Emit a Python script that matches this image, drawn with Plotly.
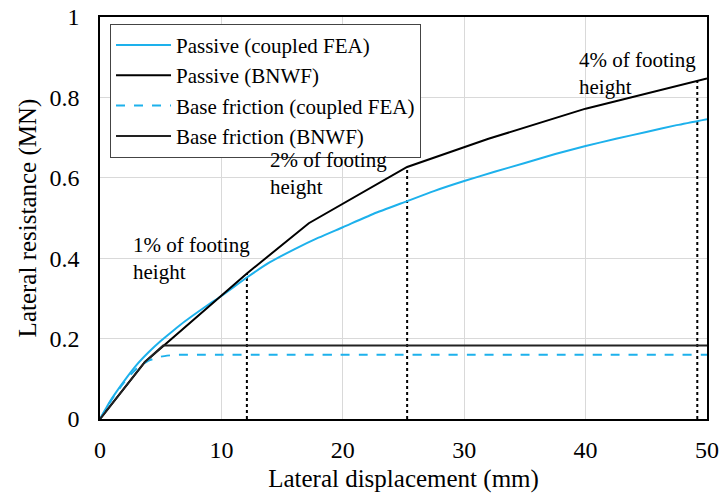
import plotly.graph_objects as go

# Lateral displacement (mm) and lateral resistance (MN)
fea_passive_x = [0, 0.5, 1, 2, 3, 4, 5, 6, 7, 8, 9, 10, 12.1, 14, 16, 18, 20, 22.5,
                 25.3, 27.5, 30, 32.5, 35, 37.5, 40, 42.5, 45, 47.5, 50]
fea_passive_y = [0, 0.027, 0.052, 0.095, 0.134, 0.166, 0.194, 0.219, 0.243, 0.265,
                 0.286, 0.306, 0.352, 0.39, 0.422, 0.451, 0.477, 0.51, 0.542, 0.567,
                 0.592, 0.615, 0.637, 0.659, 0.679, 0.697, 0.714, 0.731, 0.746]

bnwf_passive_x = [0, 3.7, 12.1, 17.2, 25.3, 32, 40, 50]
bnwf_passive_y = [0, 0.142, 0.362, 0.487, 0.627, 0.697, 0.772, 0.847]

fea_base_x = [0, 1, 2, 3, 4, 5, 6, 7, 8, 10, 50]
fea_base_y = [0, 0.05, 0.092, 0.125, 0.145, 0.155, 0.159, 0.16, 0.16, 0.16, 0.16]

bnwf_base_x = [0, 3.7, 5.2, 50]
bnwf_base_y = [0, 0.142, 0.183, 0.183]

# Displacements at 1%, 2% and 4% of footing height
marker_x = [12.1, 25.3, 49.2]
marker_labels = ["1% of footing<br>height", "2% of footing<br>height", "4% of footing<br>height"]
label_pos_x = [2.55, 13.85, 39.25]
label_pos_y = [0.468, 0.678, 0.927]

x_ticks = [0, 10, 20, 30, 40, 50]
y_ticks = [0, 0.2, 0.4, 0.6, 0.8, 1.0]
y_tick_text = ["0", "0.2", "0.4", "0.6", "0.8", "1"]

CYAN = "#1DB1EC"
FONT = "Liberation Serif"

fig = go.Figure()

def interp(x, xs, ys):
    for i in range(len(xs) - 1):
        if xs[i] <= x <= xs[i + 1]:
            t = (x - xs[i]) / (xs[i + 1] - xs[i])
            return ys[i] + t * (ys[i + 1] - ys[i])
    return ys[-1]

# dotted guide lines from the axis up to the BNWF passive curve
for mx in marker_x:
    fig.add_trace(go.Scatter(
        x=[mx, mx], y=[0, interp(mx, bnwf_passive_x, bnwf_passive_y)],
        mode="lines", line=dict(color="black", width=2, dash="dot"),
        showlegend=False, hoverinfo="skip"))

fig.add_trace(go.Scatter(x=fea_passive_x, y=fea_passive_y, mode="lines",
                         name="Passive (coupled FEA)",
                         line=dict(color=CYAN, width=2, shape="spline", smoothing=0.6)))
fig.add_trace(go.Scatter(x=bnwf_passive_x, y=bnwf_passive_y, mode="lines",
                         name="Passive (BNWF)", line=dict(color="black", width=2)))
fig.add_trace(go.Scatter(x=fea_base_x, y=fea_base_y, mode="lines",
                         name="Base friction (coupled FEA)",
                         line=dict(color=CYAN, width=2, dash="dash", shape="spline", smoothing=0.6)))
fig.add_trace(go.Scatter(x=bnwf_base_x, y=bnwf_base_y, mode="lines",
                         name="Base friction (BNWF)", line=dict(color="#222222", width=2)))

for lx, ly, txt in zip(label_pos_x, label_pos_y, marker_labels):
    fig.add_annotation(x=lx, y=ly, text=txt, showarrow=False, xanchor="left",
                       yanchor="top", align="left",
                       font=dict(family=FONT, size=21, color="black"))

fig.update_layout(
    width=721, height=499,
    margin=dict(l=100, r=14, t=17, b=80, autoexpand=False),
    paper_bgcolor="white", plot_bgcolor="white",
    font=dict(family=FONT, size=24, color="black"),
    showlegend=True,
    legend=dict(x=0.0165, y=0.983, xanchor="left", yanchor="top",
                bgcolor="white", bordercolor="#444444", borderwidth=1,
                font=dict(family=FONT, size=21, color="black"),
                itemwidth=55, tracegroupgap=0),
)

fig.update_xaxes(
    range=[0, 50], tickvals=x_ticks, automargin=False,
    showgrid=True, gridcolor="#d9d9d9", gridwidth=1,
    showline=True, linecolor="black", linewidth=1.5, mirror=True,
    ticks="outside", ticklen=8, tickcolor="rgba(0,0,0,0)",
    zeroline=False,
    tickfont=dict(family=FONT, size=24),
    title=dict(text="Lateral displacement (mm)", font=dict(family=FONT, size=25), standoff=8),
)
fig.update_yaxes(
    range=[0, 1], tickvals=y_ticks, ticktext=y_tick_text, automargin=False,
    showgrid=True, gridcolor="#d9d9d9", gridwidth=1,
    showline=True, linecolor="black", linewidth=1.5, mirror=True,
    ticks="outside", ticklen=14, tickcolor="rgba(0,0,0,0)",
    zeroline=False,
    tickfont=dict(family=FONT, size=24),
    title=dict(text="Lateral resistance (MN)", font=dict(family=FONT, size=25), standoff=6),
)

fig.write_html("out.html")
